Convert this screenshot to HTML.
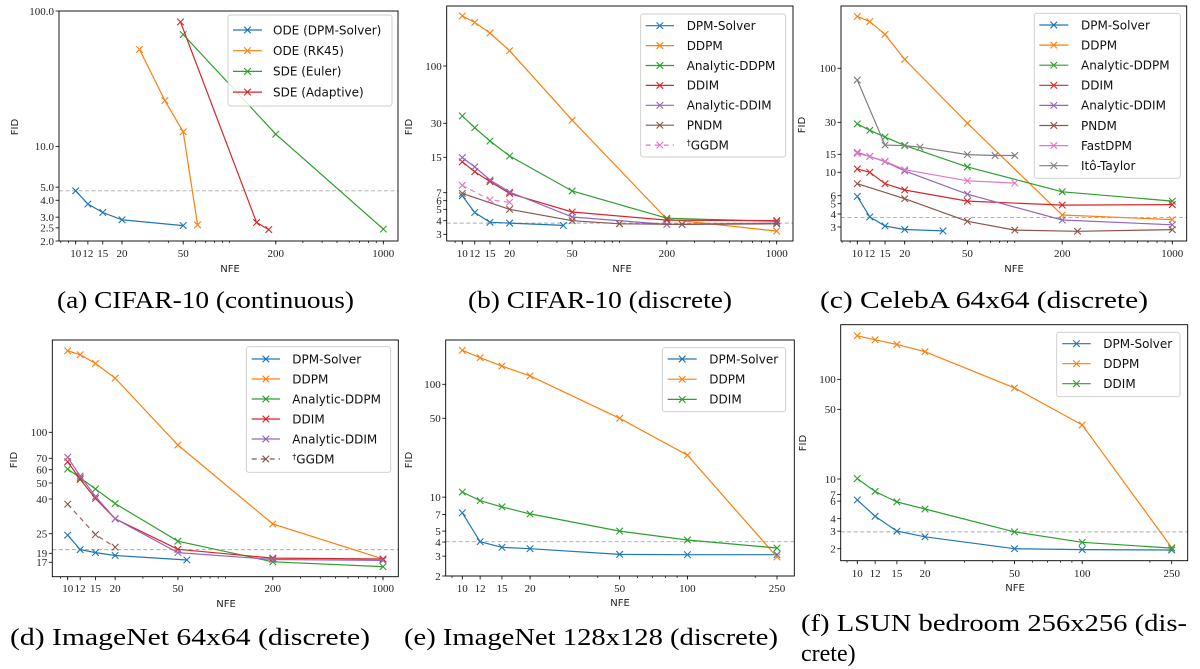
<!DOCTYPE html>
<html><head><meta charset="utf-8">
<style>
html,body{margin:0;padding:0;background:#fff;}
svg{display:block;}
.tick{font-family:"Liberation Serif",serif;font-size:11px;fill:#222;}
.albl{font-family:"DejaVu Sans","Liberation Sans",sans-serif;font-size:10px;fill:#222;}
.leg{font-family:"DejaVu Sans","Liberation Sans",sans-serif;font-size:12px;fill:#111;}
.cap{font-family:"Liberation Serif",serif;font-size:24px;fill:#000;}
</style></head>
<body>
<svg id="fig" width="1200" height="669" viewBox="0 0 1200 669" xmlns="http://www.w3.org/2000/svg">
<text class="cap" x="57" y="308" textLength="297" lengthAdjust="spacingAndGlyphs">(a) CIFAR-10 (continuous)</text>
<text class="cap" x="468" y="308" textLength="264" lengthAdjust="spacingAndGlyphs">(b) CIFAR-10 (discrete)</text>
<text class="cap" x="820" y="308" textLength="328" lengthAdjust="spacingAndGlyphs">(c) CelebA 64x64 (discrete)</text>
<text class="cap" x="10" y="645" textLength="360" lengthAdjust="spacingAndGlyphs">(d) ImageNet 64x64 (discrete)</text>
<text class="cap" x="404" y="645" textLength="374" lengthAdjust="spacingAndGlyphs">(e) ImageNet 128x128 (discrete)</text>
<text class="cap" x="801" y="631" textLength="386" lengthAdjust="spacingAndGlyphs">(f) LSUN bedroom 256x256 (dis-</text>
<text class="cap" x="801" y="661">crete)</text>
</svg>
<script>
// ---------- Panel A data ----------
const aX_dpm=[10,12,15,20,50];      const aY_dpm=[4.7,3.75,3.25,2.87,2.6];
const aX_rk45=[26,38,50,62];         const aY_rk45=[52,21.8,12.8,2.63];
const aX_euler=[50,200,1000];        const aY_euler=[67,12.3,2.45];
const aX_adapt=[48,150,180];         const aY_adapt=[83,2.74,2.43];
const aYTicks=[2,2.5,3,4,5,10,100];  const aYLabels=["2.0","2.5","3.0","4.0","5.0","10.0","100.0"];
const aXTicks=[10,12,15,20,50,200,1000];
const aRef=4.7;
// ---------- Panel B data ----------
const bX=[10,12,15,20,50,200,1000];
const bY_ddpm=[286,250,200,138,32,4.13,3.21];
const bY_addpm=[35,27.4,20.9,15.4,7.26,4.2,3.95];
const bY_ddim=[13.6,11,8.9,6.9,4.74,4.05,4.0];
const bY_addim=[14.9,12.2,9.2,7.1,4.3,3.7,3.8];
const bX_pndm=[10,20,50,100,250,1000]; const bY_pndm=[6.9,5.0,4.0,3.75,3.7,3.75];
const bX_ggdm=[10,15,20];            const bY_ggdm=[8.2,6.1,5.8];
const bX_dpm=[10,12,15,20,44];       const bY_dpm=[6.6,4.7,3.87,3.8,3.62];
const bYTicks=[3,4,5,6,7,15,30,100];
const bXTicks=[10,12,15,20,50,200,1000];
const bRef=3.8;
// ---------- Panel C data ----------
const cX=[10,12,15,20,50,200,1000];
const cY_ddpm=[318,283,213,122,29.4,3.91,3.53];
const cY_addpm=[29,25.2,21.8,18.2,11.3,6.54,5.3];
const cY_ddim=[10.8,10,7.8,6.8,5.3,4.85,4.9];
const cY_addim=[15.6,14.3,12.7,10.3,6.2,3.5,3.15];
const cX_pndm=[10,20,50,100,250,1000]; const cY_pndm=[7.8,5.6,3.4,2.8,2.73,2.83];
const cX_fast=[10,12,15,20,50,100];  const cY_fast=[15.3,14.3,12.8,10.6,8.3,7.9];
const cX_ito=[10,15,20,25,50,75,100]; const cY_ito=[77,18.3,18.1,17.5,14.9,14.6,14.6];
const cX_dpm=[10,12,15,20,35];       const cY_dpm=[5.9,3.75,3.07,2.84,2.75];
const cYTicks=[3,4,5,6,10,15,30,100];
const cXTicks=[10,12,15,20,50,200,1000];
const cRef=3.7;
// ---------- Panel D data ----------
const dX=[10,12,15,20,50,200,1000];
const dY_ddpm=[306,290,257,210,84,28.5,17.7];
const dY_addpm=[60.5,53.7,46,37.6,22.5,17.1,16.1];
const dY_ddim=[66.8,52.5,40.3,30.6,20.1,17.9,17.7];
const dY_addim=[71,55,41.4,30.6,19.2,17.6,17.4];
const dX_ggdm=[10,15,20];            const dY_ggdm=[37.3,24.7,20.7];
const dX_dpm=[10,12,15,20,57];       const dY_dpm=[24.5,20,19.2,18.5,17.5];
const dYTicks=[17,19,25,40,50,60,70,100];
const dXTicks=[10,12,15,20,50,200,1000];
const dRef=20;
// ---------- Panel E data ----------
const eX=[10,12,15,20,50,100,250];
const eY_ddpm=[200,172,145,118.6,50,23.6,2.95];
const eY_ddim=[11.1,9.3,8.2,7.1,5.0,4.17,3.54];
const eY_dpm=[7.26,4.03,3.59,3.49,3.11,3.09,3.09];
const eYTicks=[2,3,4,5,7,10,50,100];
const eXTicks=[10,12,15,20,50,100,250];
const eRef=4.03;
// ---------- Panel F data ----------
const fX=[10,12,15,20,50,100,250];
const fY_ddpm=[273,249,224,189,82,34.9,2.05];
const fY_ddim=[10.1,7.5,5.9,5.0,2.95,2.32,2.03];
const fY_dpm=[6.17,4.23,3.0,2.63,2.0,1.96,1.94];
const fYTicks=[2,3,4,6,7,10,50,100];
const fXTicks=[10,12,15,20,50,100,250];
const fRef=2.95;

const C={blue:'#1f77b4',orange:'#ff7f0e',green:'#2ca02c',red:'#d62728',purple:'#9467bd',brown:'#8c564b',pink:'#e377c2',gray:'#7f7f7f'};
const NS='http://www.w3.org/2000/svg';
const fig=document.getElementById('fig');
function mk(tag,attrs,parent){const e=document.createElementNS(NS,tag);for(const k in attrs)e.setAttribute(k,attrs[k]);(parent||fig).appendChild(e);return e;}
// piecewise log interpolation through anchors [value,pixel]
function logScale(anchors){
  const A=anchors.map(a=>[Math.log10(a[0]),a[1]]);
  return v=>{const L=Math.log10(v);let i=0;
    if(L<=A[0][0])i=0;else if(L>=A[A.length-1][0])i=A.length-2;else{while(i<A.length-2&&L>A[i+1][0])i++;}
    const a=A[i],b=A[i+1];return a[1]+(L-a[0])*(b[1]-a[1])/(b[0]-a[0]);};
}
function fmt(v){return String(v);}

const panels=[
 {id:'a',box:{l:59,r:398,t:11,b:241},xA:[[10,75.7],[1000,383.3]],yA:[[2,241],[100,11]],
  yTicks:aYTicks,yLabels:aYLabels,xTicks:aXTicks,ref:aRef,xlab:[230,272],ylab:[18,127],xtY:257,
  leg:{x:228,y:15,w:164,h:91,y0:30,dy:20.7,l1:233,l2:262,tx:273},
  series:[{n:'ODE (DPM-Solver)',c:C.blue,x:aX_dpm,y:aY_dpm},{n:'ODE (RK45)',c:C.orange,x:aX_rk45,y:aY_rk45},
          {n:'SDE (Euler)',c:C.green,x:aX_euler,y:aY_euler},{n:'SDE (Adaptive)',c:C.red,x:aX_adapt,y:aY_adapt}]},
 {id:'b',box:{l:446.7,r:793,t:6,b:241},xA:[[10,462.3],[1000,776.7]],
  yA:[[3,234.3],[4,220.7],[5,209.3],[6,200.7],[7,192.7],[15,157.3],[30,123.3],[100,66]],
  yTicks:bYTicks,xTicks:bXTicks,ref:bRef,xlab:[622,272],ylab:[412,127],xtY:257,
  leg:{x:640.7,y:14,w:145,h:143,y0:25.7,dy:19.9,l1:645.7,l2:674,tx:686.7},
  series:[{n:'DPM-Solver',c:C.blue,x:bX_dpm,y:bY_dpm},{n:'DDPM',c:C.orange,x:bX,y:bY_ddpm},
          {n:'Analytic-DDPM',c:C.green,x:bX,y:bY_addpm},{n:'DDIM',c:C.red,x:bX,y:bY_ddim},
          {n:'Analytic-DDIM',c:C.purple,x:bX,y:bY_addim},{n:'PNDM',c:C.brown,x:bX_pndm,y:bY_pndm},
          {n:'†GGDM',c:C.pink,x:bX_ggdm,y:bY_ggdm,dash:true}]},
 {id:'c',box:{l:841,r:1186.7,t:6,b:241},xA:[[10,857.3],[1000,1172.3]],
  yA:[[3,227],[4,214],[5,203.7],[6,195.7],[10,172.3],[15,154.3],[30,122.3],[100,68.3]],
  yTicks:cYTicks,xTicks:cXTicks,ref:cRef,xlab:[1014,272],ylab:[805,125],xtY:257,
  leg:{x:1034.3,y:13.3,w:146,h:165,y0:25,dy:20.1,l1:1039.3,l2:1068.3,tx:1081},
  series:[{n:'DPM-Solver',c:C.blue,x:cX_dpm,y:cY_dpm},{n:'DDPM',c:C.orange,x:cX,y:cY_ddpm},
          {n:'Analytic-DDPM',c:C.green,x:cX,y:cY_addpm},{n:'DDIM',c:C.red,x:cX,y:cY_ddim},
          {n:'Analytic-DDIM',c:C.purple,x:cX,y:cY_addim},{n:'PNDM',c:C.brown,x:cX_pndm,y:cY_pndm},
          {n:'FastDPM',c:C.pink,x:cX_fast,y:cY_fast},{n:'Itô-Taylor',c:C.gray,x:cX_ito,y:cY_ito}]},
 {id:'d',box:{l:52.3,r:398.3,t:340,b:576.7},xA:[[10,67.7],[1000,383]],
  yA:[[17,562.3],[19,553.3],[25,533.7],[40,499],[50,483],[60,469.7],[70,458.3],[100,432.3]],
  yTicks:dYTicks,xTicks:dXTicks,ref:dRef,xlab:[226,607],ylab:[17,460],xtY:592,
  leg:{x:246.3,y:346.7,w:144.4,h:125.6,y0:359,dy:20,l1:251.7,l2:280,tx:292.3},
  series:[{n:'DPM-Solver',c:C.blue,x:dX_dpm,y:dY_dpm},{n:'DDPM',c:C.orange,x:dX,y:dY_ddpm},
          {n:'Analytic-DDPM',c:C.green,x:dX,y:dY_addpm},{n:'DDIM',c:C.red,x:dX,y:dY_ddim},
          {n:'Analytic-DDIM',c:C.purple,x:dX,y:dY_addim},{n:'†GGDM',c:C.brown,x:dX_ggdm,y:dY_ggdm,dash:true}]},
 {id:'e',box:{l:445.7,r:794.3,t:340,b:576},xA:[[10,462.3],[250,777]],yA:[[2,576],[100,384.3]],
  yTicks:eYTicks,xTicks:eXTicks,ref:eRef,xlab:[620,606],ylab:[412,460],xtY:592,
  leg:{x:662.3,y:347.7,w:123.4,h:64,y0:359,dy:20.2,l1:667.7,l2:696.7,tx:709.3},
  series:[{n:'DPM-Solver',c:C.blue,x:eX,y:eY_dpm},{n:'DDPM',c:C.orange,x:eX,y:eY_ddpm},{n:'DDIM',c:C.green,x:eX,y:eY_ddim}]},
 {id:'f',box:{l:840.7,r:1187.7,t:324.7,b:560.7},xA:[[10,857.3],[250,1171.7]],yA:[[2,548.7],[100,379.3]],
  yTicks:fYTicks,xTicks:fXTicks,ref:fRef,xlab:[1015,591],ylab:[806,443],xtY:577,
  leg:{x:1056.7,y:332.3,w:123.3,h:64.4,y0:343.7,dy:20,l1:1062.3,l2:1090.7,tx:1103.3},
  series:[{n:'DPM-Solver',c:C.blue,x:fX,y:fY_dpm},{n:'DDPM',c:C.orange,x:fX,y:fY_ddpm},{n:'DDIM',c:C.green,x:fX,y:fY_ddim}]}
];

function marker(g,x,y,c,name){
  const s=3.3;
  const p=mk('path',{d:`M${x-s},${y-s}L${x+s},${y+s}M${x-s},${y+s}L${x+s},${y-s}`,stroke:c,'stroke-width':1.1,fill:'none'},g);
  
  
}

panels.forEach(P=>{
  const g=mk('g',{});
  
  
  const B=P.box, X=logScale(P.xA), Y=logScale(P.yA);
  const clipId='clip-'+P.id;
  const cp=mk('clipPath',{id:clipId},g); mk('rect',{x:B.l,y:B.t,width:B.r-B.l,height:B.b-B.t},cp);
  // reference line
  const ry=Y(P.ref);
  const rl=mk('line',{x1:B.l,x2:B.r,y1:ry,y2:ry,stroke:'#aaa','stroke-width':0.9,'stroke-dasharray':'4,2.5'},g);
  
  
  // series
  const sg=mk('g',{'clip-path':`url(#${clipId})`},g);
  P.series.forEach((S,si)=>{
    const pts=S.x.map((xv,i)=>[X(xv),Y(S.y[i])]);
    const pl=mk('polyline',{points:pts.map(p=>p[0].toFixed(1)+','+p[1].toFixed(1)).join(' '),fill:'none',stroke:S.c,'stroke-width':1.2},sg);
    if(S.dash){pl.setAttribute('stroke-dasharray','5,4');pl.setAttribute('stroke-opacity','0.9');}
    
    
    pts.forEach(p=>marker(sg,p[0],p[1],S.c,'point-'+P.id+'-'+si));
  });
  // axes frame
  const fr=mk('rect',{x:B.l,y:B.t,width:B.r-B.l,height:B.b-B.t,fill:'none',stroke:'#000','stroke-width':0.9},g);
  
  
  // x minor ticks
  const xmin=Math.pow(10,(B.l-P.xA[0][1])/((P.xA[1][1]-P.xA[0][1])/Math.log10(P.xA[1][0]/P.xA[0][0])))*P.xA[0][0];
  for(let k=0;k<4;k++)for(let m=1;m<10;m++){const v=m*Math.pow(10,k);const px=X(v);
    if(px>B.l+0.5&&px<B.r-0.5){mk('line',{x1:px,x2:px,y1:B.b,y2:B.b+2,stroke:'#000','stroke-width':0.7},g);}}
  // x major ticks
  P.xTicks.forEach(v=>{const px=X(v);
    mk('line',{x1:px,x2:px,y1:B.b,y2:B.b+3.5,stroke:'#000','stroke-width':0.8},g);
    const t=mk('text',{x:px,y:P.xtY,'text-anchor':'middle',class:'tick'},g);t.textContent=fmt(v);
    
    });
  // y ticks
  P.yTicks.forEach((v,i)=>{const py=Y(v);
    mk('line',{x1:B.l-3.5,x2:B.l,y1:py,y2:py,stroke:'#000','stroke-width':0.8},g);
    const t=mk('text',{x:B.l-5,y:py+3.8,'text-anchor':'end',class:'tick'},g);
    t.textContent=P.yLabels?P.yLabels[i]:fmt(v);
    
    });
  // axis titles
  const xl=mk('text',{x:P.xlab[0],y:P.xlab[1],'text-anchor':'middle',class:'albl'},g);xl.textContent='NFE';
  
  
  const yl=mk('text',{x:P.ylab[0],y:P.ylab[1],'text-anchor':'middle',class:'albl',transform:`rotate(-90 ${P.ylab[0]} ${P.ylab[1]})`},g);yl.textContent='FID';
  
  
  // legend
  const L=P.leg;
  const lg=mk('g',{},g);
  
  
  mk('rect',{x:L.x,y:L.y,width:L.w,height:L.h,rx:2.5,fill:'#fff','fill-opacity':0.85,stroke:'#ccc','stroke-width':0.9},lg);
  P.series.forEach((S,i)=>{const yy=L.y0+i*L.dy;
    const e=mk('g',{},lg);
    
    
    const ln=mk('line',{x1:L.l1,x2:L.l2,y1:yy,y2:yy,stroke:S.c,'stroke-width':1.2},e);
    if(S.dash)ln.setAttribute('stroke-dasharray','5,4');
    marker(e,(L.l1+L.l2)/2,yy,S.c,'legend-marker');
    const t=mk('text',{x:L.tx,y:yy+4.3,class:'leg'},e);
    if(S.n.startsWith('†')){const s1=mk('tspan',{'font-size':'8','dy':'-4'},t);s1.textContent='†';const s2=mk('tspan',{'dy':'4'},t);s2.textContent=S.n.slice(1);}
    else t.textContent=S.n;});
});
</script>
</body></html>
